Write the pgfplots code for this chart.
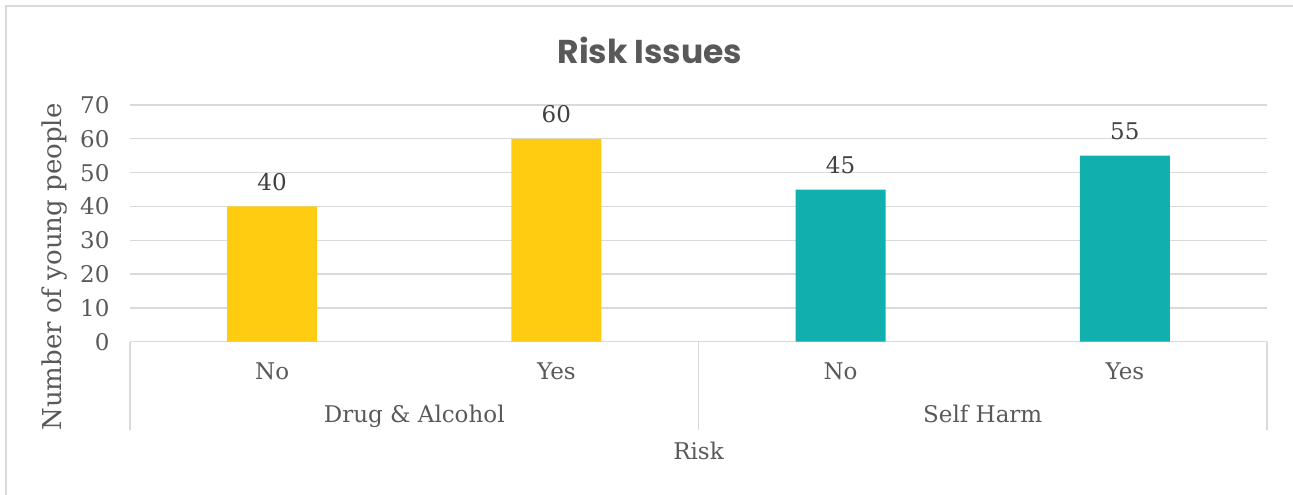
\documentclass[border=0pt]{standalone}
\usepackage{fontspec}
\setmainfont{DejaVu Serif}
\newfontfamily\titlefont{Poppins Bold}
\usepackage{pgfplots}
\pgfplotsset{compat=1.18}
\definecolor{cyellow}{HTML}{FFCC12}
\definecolor{cteal}{HTML}{12AFAF}
\definecolor{ctext}{HTML}{595959}
\definecolor{cdata}{HTML}{404040}
\definecolor{cgrid}{HTML}{D9D9D9}
\begin{document}
\begin{tikzpicture}[x=1pt,y=1pt]
\path[use as bounding box] (0,0) rectangle (1293,-495);
\draw[cgrid, line width=1.5pt] (6,-495) -- (6,-6) -- (1293,-6);
\node[text=ctext, font=\titlefont\fontsize{33}{40}\selectfont] at (650,-50) {Risk Issues};
\begin{axis}[
  at={(130pt,-341.7pt)}, anchor=south west,
  scale only axis, width=1137pt, height=236.7pt,
  xmin=-0.5, xmax=3.5, ymin=0, ymax=70,
  ytick={0,10,...,70},
  xtick={0,1,2,3}, xticklabels={No,Yes,No,Yes},
  major tick length=0pt,
  axis x line*=bottom, axis y line*=left,
  y axis line style={draw=none},
  x axis line style={cgrid, line width=1.3pt, -},
  ymajorgrids, grid style={cgrid, line width=1.3pt},
  /pgf/number format/assume math mode=true,
  ticklabel style={font=\fontsize{23}{25}\selectfont, text=ctext},
  yticklabel style={xshift=-17pt},
  xticklabel style={yshift=-17pt},
  ylabel={Number of young people},
  xlabel={Risk},
  every axis y label/.style={at={(axis description cs:-0.066,0.316)}, rotate=90, anchor=center, font=\fontsize{26}{28}\selectfont, text=ctext},
  every axis x label/.style={at={(axis description cs:0.5,-0.462)}, anchor=center, font=\fontsize{23}{25}\selectfont, text=ctext},
  clip=false,
  ybar, bar width=90pt, bar shift=0pt,
  nodes near coords,
  nodes near coords style={font=\fontsize{23}{25}\selectfont, text=cdata, anchor=south, yshift=12pt},
]
\addplot[fill=cyellow, draw=none] coordinates {(0,40) (1,60)};
\addplot[fill=cteal, draw=none] coordinates {(2,45) (3,55)};
\draw[cgrid, line width=1.3pt] (axis cs:-0.5,0) -- ([yshift=-88.5pt]axis cs:-0.5,0);
\draw[cgrid, line width=1.3pt] (axis cs:1.5,0) -- ([yshift=-88.5pt]axis cs:1.5,0);
\draw[cgrid, line width=1.3pt] (axis cs:3.5,0) -- ([yshift=-88.5pt]axis cs:3.5,0);
\node[text=ctext, font=\fontsize{23}{25}\selectfont, anchor=base] at ([yshift=-81pt]axis cs:0.5,0) {Drug \& Alcohol};
\node[text=ctext, font=\fontsize{23}{25}\selectfont, anchor=base] at ([yshift=-81pt]axis cs:2.5,0) {Self Harm};
\end{axis}
\end{tikzpicture}
\end{document}
